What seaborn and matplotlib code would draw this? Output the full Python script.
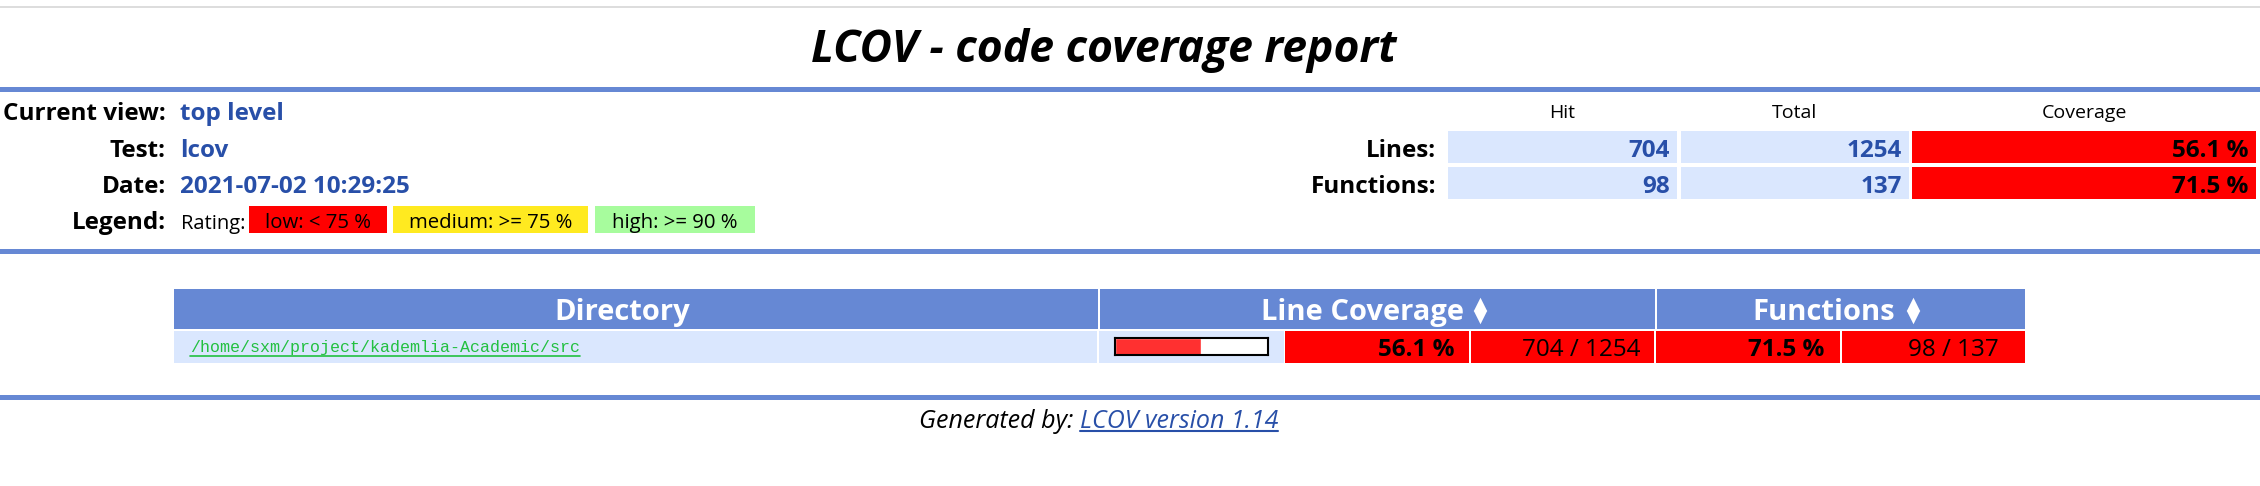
import matplotlib
matplotlib.use("Agg")
import matplotlib.pyplot as plt
import seaborn as sns

info_labels = ["Current view:", "Test:", "Date:"]
info_values = ["top level", "lcov", "2021-07-02 10:29:25"]
legend_labels = ["low: < 75 %", "medium: >= 75 %", "high: >= 90 %"]
summary_cols = ["Hit", "Total", "Coverage"]
summary_rows = ["Lines:", "Functions:"]
summary_hit = [704, 98]
summary_total = [1254, 137]
summary_pct = [56.1, 71.5]
dir_headers = ["Directory", "Line Coverage", "Functions"]
dir_path = "/home/sxm/project/kademlia-Academic/src"
dir_line_pct = 56.1
dir_line_hit, dir_line_total = 704, 1254
dir_fn_pct = 71.5
dir_fn_hit, dir_fn_total = 98, 137

# colours
BLUE = "#6688d4"
LIGHT = "#dae7fe"
RED = "#ff0000"
TXT_BLUE = "#284fa8"
legend_colors = ["#ff0000", "#ffea20", "#a7fc9d"]

W, H = 2260, 486
sns.set_theme(style="white")
plt.rcParams["font.family"] = ["Open Sans", "DejaVu Sans"]

fig = plt.figure(figsize=(W / 100, H / 100), dpi=100)
ax = fig.add_axes([0, 0, 1, 1])
ax.set_xlim(0, W)
ax.set_ylim(H, 0)
ax.axis("off")


def rect(x0, y0, x1, y1, color):
    ax.add_patch(plt.Rectangle((x0, y0), x1 - x0, y1 - y0, color=color, lw=0))


def txt(x, y, s, ha="left", size=13, weight="normal", color="black", style="normal", **kw):
    return ax.text(x, y, s, ha=ha, va="baseline", fontsize=size, fontweight=weight,
                   color=color, fontstyle=style, **kw)


# rules
rect(0, 6, W, 8, "#dddddd")
for y in (87, 249, 395):
    rect(0, y, W, y + 5, BLUE)

# title
txt(1104, 62, "LCOV - code coverage report", ha="center", size=32, weight="bold", style="italic")

# header info block
for i, (lab, val) in enumerate(zip(info_labels, info_values)):
    yb = 120 + i * 36.5
    txt(166, yb, lab, ha="right", size=17.5, weight="bold")
    txt(180, yb, val, size=17.5, weight="bold", color=TXT_BLUE)
txt(166, 229, "Legend:", ha="right", size=17.5, weight="bold")
txt(181, 229, "Rating:", size=14.5)
box_x = [(249, 387), (393, 588), (595, 755)]
for (x0, x1), lab, col in zip(box_x, legend_labels, legend_colors):
    rect(x0, 206, x1, 233, col)
    txt((x0 + x1) / 2, 228, lab, ha="center", size=14.7)

# summary table
col_x = [(1448, 1677), (1681, 1909), (1912, 2256)]
for (x0, x1), lab in zip(col_x, summary_cols):
    txt((x0 + x1) / 2, 118, lab, ha="center", size=14)
row_y = [(131, 163), (167, 199)]
for (y0, y1), lab, hit, tot, pct in zip(row_y, summary_rows, summary_hit, summary_total, summary_pct):
    yb = y1 - 6
    txt(1436, yb, lab, ha="right", size=17.5, weight="bold")
    rect(col_x[0][0], y0, col_x[0][1], y1, LIGHT)
    rect(col_x[1][0], y0, col_x[1][1], y1, LIGHT)
    rect(col_x[2][0], y0, col_x[2][1], y1, RED)
    txt(col_x[0][1] - 7, yb, str(hit), ha="right", size=17.5, weight="bold", color=TXT_BLUE)
    txt(col_x[1][1] - 7, yb, str(tot), ha="right", size=17.5, weight="bold", color=TXT_BLUE)
    txt(col_x[2][1] - 8, yb, f"{pct:.1f} %", ha="right", size=17.5, weight="bold")

# directory table header
head_x = [(174, 1098), (1100, 1655), (1657, 2025)]
for (x0, x1) in head_x:
    rect(x0, 289, x1, 329, BLUE)
txt(622, 320, dir_headers[0], ha="center", size=21, weight="bold", color="white")
txt(1464, 320, dir_headers[1], ha="right", size=21, weight="bold", color="white")
txt(1895, 320, dir_headers[2], ha="right", size=21, weight="bold", color="white")
for xa in (1480, 1913):
    ax.scatter([xa], [303.5], marker="^", s=95, color="white", lw=0, zorder=3)
    ax.scatter([xa], [317], marker="v", s=95, color="white", lw=0, zorder=3)

# directory row
rect(174, 331, 1097, 363, LIGHT)
rect(1099, 331, 1284, 363, LIGHT)
for x0, x1 in [(1285, 1469), (1471, 1654), (1656, 1840), (1842, 2025)]:
    rect(x0, 331, x1, 363, RED)
link_color = "#22c040"
path_t = txt(190, 352, dir_path, size=12, color=link_color, family="Liberation Mono")
fig.canvas.draw()
pb = path_t.get_window_extent().transformed(ax.transData.inverted())
ax.plot([190, max(pb.x0, pb.x1)], [355.5, 355.5], color=link_color, lw=1.2)
txt(1454, 356, f"{dir_line_pct:.1f} %", ha="right", size=17.5, weight="bold")
txt(1640, 356, f"{dir_line_hit} / {dir_line_total}", ha="right", size=17.5)
txt(1824, 356, f"{dir_fn_pct:.1f} %", ha="right", size=17.5, weight="bold")
txt(1999, 356, f"{dir_fn_hit} / {dir_fn_total}", ha="right", size=17.5)

# coverage bar drawn with seaborn on its own axis
bx0, by0, bx1, by1 = 1115, 338, 1268, 355
bar_ax = fig.add_axes([bx0 / W, 1 - by1 / H, (bx1 - bx0) / W, (by1 - by0) / H])
sns.barplot(x=[dir_line_pct], y=["src"], orient="h", color="#ff3030", saturation=1,
            width=1, ax=bar_ax)
bar_ax.set_xlim(0, 100)
bar_ax.set_ylim(-0.5, 0.5)
bar_ax.set_facecolor("white")
bar_ax.set_xticks([])
bar_ax.set_yticks([])
bar_ax.set_xlabel("")
bar_ax.set_ylabel("")
for sp in bar_ax.spines.values():
    sp.set_visible(True)
    sp.set_color("black")
    sp.set_linewidth(1.5)

# footer
txt(1073, 428, "Generated by:", ha="right", size=18, style="italic")
link = txt(1080, 428, "LCOV version 1.14", size=18, style="italic", color=TXT_BLUE)
fig.canvas.draw()
bb = link.get_window_extent().transformed(ax.transData.inverted())
ax.plot([1080, max(bb.x0, bb.x1)], [431, 431], color=TXT_BLUE, lw=1.5)

fig.savefig("out.png", dpi=100)
